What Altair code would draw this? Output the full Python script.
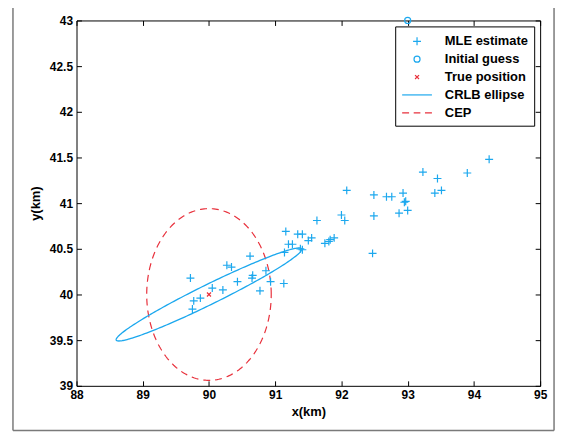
import altair as alt
import numpy as np
import pandas as pd

# ---------------- data ----------------
mle_x = [89.72, 89.75, 89.77, 89.87, 90.05, 90.21, 90.27, 90.34, 90.43, 90.62,
         90.65, 90.66, 90.77, 90.86, 90.93, 91.13, 91.14, 91.16, 91.20, 91.26,
         91.34, 91.41, 91.38, 91.41, 91.50, 91.55, 91.63, 91.75, 91.81, 91.83,
         91.89, 92.00, 92.05, 92.08, 92.47, 92.49, 92.49, 92.68, 92.76, 92.87,
         92.93, 92.95, 92.97, 93.00, 93.23, 93.41, 93.45, 93.51, 93.90, 94.23]
mle_y = [40.18, 39.84, 39.93, 39.96, 40.07, 40.05, 40.32, 40.30, 40.14, 40.42,
         40.18, 40.21, 40.04, 40.26, 40.14, 40.12, 40.46, 40.69, 40.55, 40.55,
         40.66, 40.66, 40.50, 40.49, 40.59, 40.62, 40.81, 40.56, 40.58, 40.60,
         40.62, 40.87, 40.81, 41.14, 40.45, 41.09, 40.86, 41.07, 41.07, 40.89,
         41.11, 41.01, 41.02, 40.92, 41.34, 41.11, 41.27, 41.14, 41.33, 41.48]
guess_x = [93.0]
guess_y = [43.0]
true_x = [90.0]
true_y = [40.0]

series_names = ["MLE estimate", "Initial guess", "True position", "CRLB ellipse", "CEP"]

x_ticks = [88, 89, 90, 91, 92, 93, 94, 95]
y_ticks = [39, 39.5, 40, 40.5, 41, 41.5, 42, 42.5, 43]

crlb_center = [90.0, 40.0]
crlb_semi_a = [1.40, 0.50]      # conjugate semi-diameter (long)
crlb_semi_b = [0.0665, -0.0974]  # conjugate semi-diameter (short)
cep_center = [90.0, 40.0]
cep_radius = 0.94

# ---------------- styles ----------------
BLUE = "#1ca8ee"
RED = "#e8313c"
FONT = "Liberation Sans"

shape_paths = [
    "M-0.5,0H0.5M0,-0.5V0.5",
    "M0.38,0A0.38,0.38 0 1,1 -0.38,0A0.38,0.38 0 1,1 0.38,0",
    "M-0.25,-0.25L0.25,0.25M-0.25,0.25L0.25,-0.25",
    "M-1.875,0H1.875",
    "M-1.875,0H-1.0M-0.42,0H0.42M1.0,0H1.875",
]
color_range = [BLUE, BLUE, RED, BLUE, RED]

# ---------------- tables ----------------
pts = pd.DataFrame({
    "x": mle_x + guess_x + true_x,
    "y": mle_y + guess_y + true_y,
    "series": [series_names[0]] * len(mle_x) + [series_names[1]] * len(guess_x)
              + [series_names[2]] * len(true_x),
})

t = np.linspace(0, 2 * np.pi, 241)
ell = pd.DataFrame({
    "x": crlb_center[0] + crlb_semi_a[0] * np.cos(t) + crlb_semi_b[0] * np.sin(t),
    "y": crlb_center[1] + crlb_semi_a[1] * np.cos(t) + crlb_semi_b[1] * np.sin(t),
    "o": np.arange(len(t)),
})
cep = pd.DataFrame({
    "x": cep_center[0] + cep_radius * np.cos(t),
    "y": cep_center[1] + cep_radius * np.sin(t),
    "o": np.arange(len(t)),
})

xscale = alt.Scale(domain=[88, 95], nice=False, zero=False)
yscale = alt.Scale(domain=[39, 43], nice=False, zero=False)

main_x_axis = alt.Axis(orient="bottom", values=x_ticks, offset=-5, tickSize=5,
                       domain=False, grid=False, labelPadding=4, labelFlush=False,
                       labelOverlap=False, labelFont=FONT, labelFontWeight="bold",
                       labelFontSize=12, labelColor="black", tickColor="black",
                       title="x(km)", titleFont=FONT, titleFontWeight="bold",
                       titleFontSize=13, titlePadding=5, titleColor="black")
main_y_axis = alt.Axis(orient="left", values=y_ticks, offset=-5, tickSize=5,
                       domain=False, grid=False, labelPadding=4, labelFlush=False,
                       labelOverlap=False, format="~f", labelFont=FONT,
                       labelFontWeight="bold", labelFontSize=12, labelColor="black",
                       tickColor="black", title="y(km)", titleFont=FONT,
                       titleFontWeight="bold", titleFontSize=13, titlePadding=7,
                       titleColor="black")
top_axis = alt.Axis(orient="top", values=x_ticks, offset=-5, tickSize=5, domain=False,
                    grid=False, labels=False, title=None, tickColor="black")
right_axis = alt.Axis(orient="right", values=y_ticks, offset=-5, tickSize=5,
                      domain=False, grid=False, labels=False, title=None,
                      tickColor="black")

legend = alt.Legend(title=None, orient="top-right", offset=6, strokeColor="black",
                    fillColor="white", padding=6, labelFont=FONT,
                    labelFontWeight="bold", labelFontSize=13, labelColor="black",
                    symbolSize=256, symbolStrokeWidth=1.2, symbolOffset=7,
                    labelOffset=19, rowPadding=2, cornerRadius=0)

points = alt.Chart(pts).mark_point(filled=False, size=256, strokeWidth=1.2,
                                   opacity=1).encode(
    x=alt.X("x:Q", scale=xscale, axis=main_x_axis),
    y=alt.Y("y:Q", scale=yscale, axis=main_y_axis),
    color=alt.Color("series:N", scale=alt.Scale(domain=series_names, range=color_range),
                    legend=legend),
    shape=alt.Shape("series:N", scale=alt.Scale(domain=series_names, range=shape_paths),
                    legend=legend),
)

ellipse = alt.Chart(ell).mark_line(color=BLUE, strokeWidth=1.3).encode(
    x=alt.X("x:Q", scale=xscale, axis=top_axis),
    y=alt.Y("y:Q", scale=yscale, axis=right_axis),
    order="o:Q",
)

cep_line = alt.Chart(cep).mark_line(color=RED, strokeWidth=1.2,
                                    strokeDash=[7, 5]).encode(
    x=alt.X("x:Q", scale=xscale, axis=None),
    y=alt.Y("y:Q", scale=yscale, axis=None),
    order="o:Q",
)

# decorative outer figure frame (left, right, bottom edges)
frame_df = pd.DataFrame({"a": [0]})
frame_style = dict(color="#7a7a7a", strokeWidth=1.5, clip=False)
frame_left = alt.Chart(frame_df).mark_rule(**frame_style).encode(
    x=alt.value(-64), y=alt.value(-20), y2=alt.value(413))
frame_right = alt.Chart(frame_df).mark_rule(**frame_style).encode(
    x=alt.value(481), y=alt.value(-20), y2=alt.value(413))
frame_bottom = alt.Chart(frame_df).mark_rule(**frame_style).encode(
    x=alt.value(-64), x2=alt.value(481), y=alt.value(413))

chart = alt.layer(cep_line, ellipse, points, frame_left, frame_right,
                  frame_bottom).resolve_axis(
    x="independent", y="independent"
).properties(
    width=467, height=368, autosize="none",
    padding={"left": 69, "top": 11, "right": 20, "bottom": 50},
).configure_view(stroke="black", strokeWidth=1)

chart.save("out.html", embed_options={"renderer": "svg", "actions": False})
